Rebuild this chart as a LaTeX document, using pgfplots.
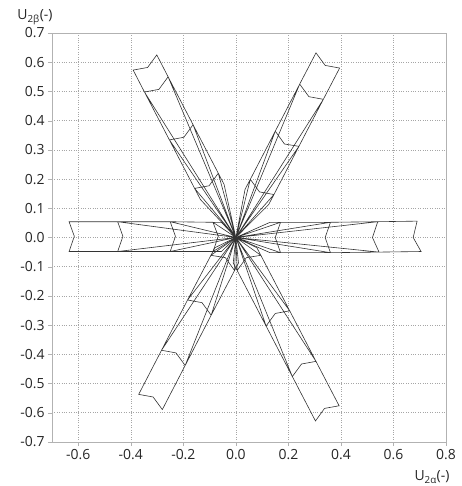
\documentclass[border=0pt]{standalone}
\usepackage{pgfplots}
\pgfplotsset{compat=1.18}
\usepackage{fontspec}
\setmainfont{Open Sans}
\begin{document}
\begin{tikzpicture}
\useasboundingbox (0,0) rectangle (462bp,486bp);
\begin{axis}[
  at={(52bp,44bp)}, anchor=south west,
  width=394bp, height=409bp, scale only axis,
  xmin=-0.7, xmax=0.8, ymin=-0.7, ymax=0.7,
  xtick={-0.6,-0.4,-0.2,0,0.2,0.4,0.6,0.8},
  ytick={-0.7,-0.6,-0.5,-0.4,-0.3,-0.2,-0.1,0,0.1,0.2,0.3,0.4,0.5,0.6,0.7},
  /pgf/number format/.cd, fixed, fixed zerofill, precision=1, assume math mode=true,
  /pgfplots/.cd,
  tick label style={font=\fontsize{14}{16}\selectfont, text=black!85},
  grid=major, grid style={dotted, gray!70, line width=0.6pt},
  axis line style={gray!60}, tick style={gray!60},
  tick align=outside, tick pos=left, major tick length=4bp,
  every axis x label/.style={at={(rel axis cs:1,0)}, anchor=center, xshift=-14bp, yshift=-35bp, font=\fontsize{14}{16}\selectfont, text=black!85},
  every axis y label/.style={at={(rel axis cs:0,1)}, anchor=center, xshift=-17bp, yshift=16bp, font=\fontsize{14}{16}\selectfont, text=black!85},
  xlabel={U\textsubscript{2α}(-)},
  ylabel={U\textsubscript{2β}(-)},
]
% lobe 0 deg
\addplot[black!80, line width=0.6pt, mark=none] coordinates {
(0,0) (0.13,0.052) (0.17,0.052) (0.15,0) (0.17,-0.052) (0.13,-0.052) (0,0)
(0.17,0.052) (0.36,0.052) (0.34,0) (0.36,-0.052) (0.17,-0.052) (0,0)
(0.36,0.052) (0.54,0.054) (0.52,0) (0.545,-0.050) (0.36,-0.052) (0,0)
(0.54,0.054) (0.69,0.056) (0.675,0) (0.705,-0.048) (0.545,-0.050) (0,0)
};
% lobe 180 deg
\addplot[black!80, line width=0.6pt, mark=none] coordinates {
(0,0) (-0.055,0.052) (-0.087,0.052) (-0.067,0.004) (-0.087,-0.048) (-0.055,-0.048) (0,0)
(-0.087,0.052) (-0.25,0.054) (-0.23,0.004) (-0.25,-0.048) (-0.087,-0.048) (0,0)
(-0.25,0.054) (-0.45,0.054) (-0.43,0.004) (-0.45,-0.048) (-0.25,-0.048) (0,0)
(-0.45,0.054) (-0.635,0.054) (-0.615,0.004) (-0.635,-0.048) (-0.45,-0.048) (0,0)
};
% lobe 60 deg
\addplot[black!80, line width=0.6pt, mark=none] coordinates {
(0,0) (0.035,0.165) (0.055,0.199) (0.09,0.156) (0.145,0.147) (0.125,0.113) (0,0)
(0.055,0.199) (0.15,0.364) (0.185,0.320) (0.24,0.312) (0.145,0.147) (0,0)
(0.15,0.364) (0.243,0.525) (0.278,0.482) (0.333,0.473) (0.24,0.312) (0,0)
(0.243,0.525) (0.305,0.632) (0.34,0.589) (0.395,0.580) (0.333,0.473) (0,0)
};
% lobe 120 deg
\addplot[black!80, line width=0.6pt, mark=none] coordinates {
(0,0) (-0.135,0.130) (-0.157,0.168) (-0.102,0.177) (-0.067,0.220) (-0.045,0.182) (0,0)
(-0.157,0.168) (-0.253,0.334) (-0.198,0.343) (-0.163,0.386) (-0.067,0.220) (0,0)
(-0.253,0.334) (-0.348,0.498) (-0.293,0.507) (-0.258,0.550) (-0.163,0.386) (0,0)
(-0.348,0.498) (-0.391,0.573) (-0.336,0.582) (-0.301,0.625) (-0.258,0.550) (0,0)
};
% lobe 240 deg
\addplot[black!80, line width=0.6pt, mark=none] coordinates {
(0,0) (0.010,-0.087) (-0.005,-0.113) (-0.04,-0.069) (-0.095,-0.061) (-0.080,-0.035) (0,0)
(-0.005,-0.113) (-0.094,-0.266) (-0.129,-0.223) (-0.184,-0.214) (-0.095,-0.061) (0,0)
(-0.094,-0.266) (-0.193,-0.438) (-0.228,-0.395) (-0.283,-0.386) (-0.184,-0.214) (0,0)
(-0.193,-0.438) (-0.28,-0.589) (-0.315,-0.546) (-0.37,-0.537) (-0.283,-0.386) (0,0)
};
% lobe 300 deg
\addplot[black!80, line width=0.6pt, mark=none] coordinates {
(0,0) (0.080,-0.035) (0.095,-0.061) (0.04,-0.069) (0.005,-0.113) (-0.010,-0.087) (0,0)
(0.095,-0.061) (0.205,-0.251) (0.15,-0.260) (0.115,-0.303) (0.005,-0.113) (0,0)
(0.205,-0.251) (0.305,-0.424) (0.25,-0.433) (0.215,-0.476) (0.115,-0.303) (0,0)
(0.305,-0.424) (0.393,-0.576) (0.3375,-0.585) (0.303,-0.628) (0.215,-0.476) (0,0)
};
\end{axis}
\end{tikzpicture}
\end{document}
